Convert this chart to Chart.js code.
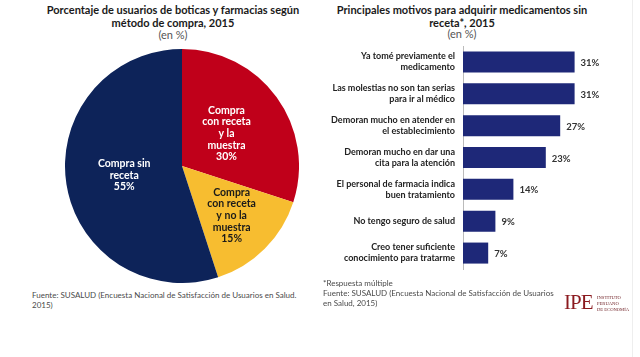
<!DOCTYPE html>
<html><head><meta charset="utf-8">
<script src="https://cdn.jsdelivr.net/npm/chart.js@4.4.1/dist/chart.umd.min.js"></script>
<style>
html,body{margin:0;padding:0;background:#fff;}
#wrap{position:relative;width:640px;height:357px;overflow:hidden;font-family:Lato,"Open Sans",sans-serif;}
.t{position:absolute;text-align:center;font-weight:bold;color:#1a1a1a;font-size:11px;line-height:12.5px;}
.s{position:absolute;text-align:center;color:#555;font-size:11px;}
.f{position:absolute;color:#4a4a4a;font-size:8px;line-height:10px;}
#edge{position:absolute;left:632px;top:0;width:1px;height:357px;background:#eee;}
</style></head><body>
<div id="wrap">
  <div class="t" style="left:20px;top:4px;width:306px;">Porcentaje de usuarios de boticas y farmacias según<br>método de compra, 2015</div>
  <div class="s" style="left:20px;top:28px;width:306px;">(en %)</div>
  <div class="t" style="left:310px;top:4px;width:304px;">Principales motivos para adquirir medicamentos sin<br>receta*, 2015</div>
  <div class="s" style="left:310px;top:27px;width:304px;">(en %)</div>
  <canvas id="pie" style="position:absolute;left:65px;top:49px;width:234px;height:234px;"></canvas>
  <canvas id="bar" style="position:absolute;left:320px;top:40px;width:320px;height:240px;"></canvas>
  <div class="f" style="left:32px;top:290px;">Fuente: SUSALUD (Encuesta Nacional de Satisfacción de Usuarios en Salud.<br>2015)</div>
  <div class="f" style="left:323px;top:278px;">*Respuesta múltiple<br>Fuente: SUSALUD (Encuesta Nacional de Satisfacción de Usuarios<br>en Salud, 2015)</div>
  <div style="position:absolute;left:564px;top:291px;font-family:'Liberation Serif','DejaVu Serif',serif;color:#8b1a1f;font-size:21px;line-height:22px;letter-spacing:-1px;">IPE</div>
  <div style="position:absolute;left:597px;top:295px;font-family:'Liberation Serif',serif;color:#6b1a1f;font-size:4.6px;line-height:5.8px;">INSTITUTO<br>PERUANO<br>DE ECONOMÍA</div>
  <div id="edge"></div>
</div>
<script>
// ---- data ----
const pieCategories = [
  ["Compra", "con receta", "y la", "muestra"],
  ["Compra", "con receta", "y no la", "muestra"],
  ["Compra sin", "receta"]
];
const pieValues = [30, 15, 55];

const barCategories = [
  ["Ya tomé previamente el", "medicamento"],
  ["Las molestias no son tan serias", "para ir al médico"],
  ["Demoran mucho en atender en", "el establecimiento"],
  ["Demoran mucho en dar una", "cita para la atención"],
  ["El personal de farmacia indica", "buen tratamiento"],
  ["No tengo seguro de salud"],
  ["Creo tener suficiente", "conocimiento para tratarme"]
];
const barValues = [31, 31, 27, 23, 14, 9, 7];

// ---- styles ----
const pieColors = ["#c0001a", "#f7bd30", "#0d2359"];
const pieTextColors = ["#ffffff", "#1a1a1a", "#ffffff"];
const pieLabelFrac = [0.47, 0.6, 0.5];
const barColor = "#1e2878";

const pieLabels = {
  id: 'pieLabels',
  afterDatasetsDraw(chart) {
    const ctx = chart.ctx;
    const meta = chart.getDatasetMeta(0);
    ctx.save();
    ctx.font = "bold 10.5px Lato, sans-serif";
    ctx.textAlign = "center";
    ctx.textBaseline = "middle";
    meta.data.forEach((arc, i) => {
      const p = arc.getProps(['x','y','startAngle','endAngle','outerRadius'], true);
      const mid = (p.startAngle + p.endAngle) / 2;
      const r = p.outerRadius * pieLabelFrac[i];
      const cx = p.x + Math.cos(mid) * r;
      const cy = p.y + Math.sin(mid) * r;
      const lines = pieCategories[i].concat([pieValues[i] + "%"]);
      const lh = 11.6;
      ctx.fillStyle = pieTextColors[i];
      lines.forEach((ln, k) => {
        ctx.fillText(ln, cx, cy + (k - (lines.length - 1) / 2) * lh);
      });
    });
    ctx.restore();
  }
};

new Chart(document.getElementById('pie'), {
  type: 'pie',
  data: { labels: pieCategories.map(c => c.join(' ')), datasets: [{ data: pieValues, backgroundColor: pieColors, borderWidth: 0 }] },
  options: {
    responsive: false, animation: false, devicePixelRatio: 1,
    layout: { padding: 0 },
    plugins: { legend: { display: false }, tooltip: { enabled: false } }
  },
  plugins: [pieLabels]
});

const barLabels = {
  id: 'barLabels',
  afterDatasetsDraw(chart) {
    const ctx = chart.ctx;
    const meta = chart.getDatasetMeta(0);
    ctx.save();
    ctx.font = "bold 9.5px Lato, sans-serif";
    ctx.fillStyle = "#333";
    ctx.textAlign = "left";
    ctx.textBaseline = "middle";
    meta.data.forEach((bar, i) => {
      ctx.fillText(barValues[i] + "%", bar.x + 6, bar.y + 1);
    });
    ctx.restore();
  }
};

new Chart(document.getElementById('bar'), {
  type: 'bar',
  data: { labels: barCategories, datasets: [{ data: barValues, backgroundColor: barColor, categoryPercentage: 1, barPercentage: 0.66 }] },
  options: {
    indexAxis: 'y', responsive: false, animation: false, devicePixelRatio: 1,
    layout: { padding: { top: 6, bottom: 11, left: 0, right: 33 } },
    plugins: { legend: { display: false }, tooltip: { enabled: false } },
    scales: {
      x: { display: false, min: 0, max: 40 },
      y: {
        afterFit(s) { s.width = 143; s.paddingTop = 0; s.paddingBottom = 0; },
        grid: { display: false, drawTicks: false },
        border: { display: true, color: '#bbbbbb', width: 1 },
        ticks: { padding: 8, color: '#222', font: { family: 'Lato', weight: 'bold', size: 9, lineHeight: 1.22 } }
      }
    }
  },
  plugins: [barLabels]
});
</script>
</body></html>
